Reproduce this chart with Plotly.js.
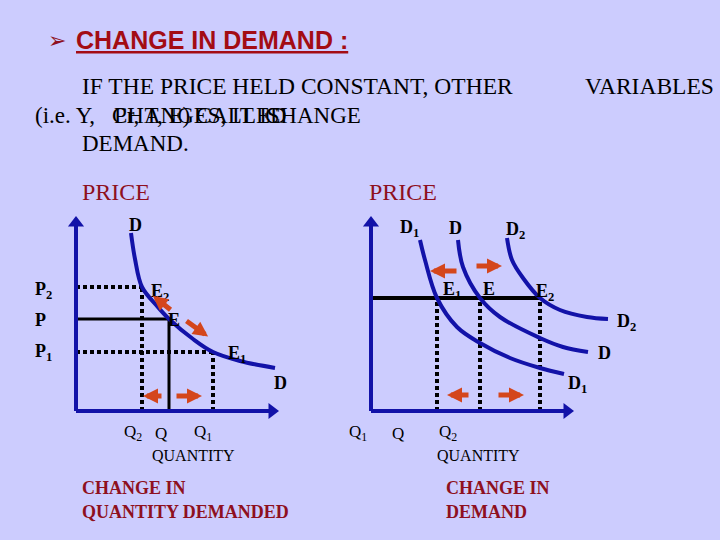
<!DOCTYPE html>
<html>
<head>
<meta charset="utf-8">
<script src="https://cdn.plot.ly/plotly-3.0.1.min.js"></script>
<style>html,body{margin:0;padding:0;background:#ccccfe;}#chart{width:720px;height:540px;}</style>
</head>
<body>
<div id="chart"></div>
<script>
// ---------- DATA ----------
// Left diagram: movement along one demand curve
const leftDQ = [2.75, 2.95, 3.3, 4.05, 4.65, 5.85, 6.85, 8.2, 9.95];
const leftDP = [8.9, 7.6, 6.2, 5.25, 4.6, 3.6, 2.95, 2.5, 2.15];
const leftPrices = [6.2, 4.6, 2.95];      // P2, P, P1
const leftQuantities = [3.3, 4.65, 6.85]; // Q2, Q, Q1
const leftDotted = [true, false, true];

// Right diagram: shifts of the demand curve
const d1Q = [2.45, 2.7, 3.3, 4.3, 5.45, 6.95, 8.45, 9.65];
const d1P = [8.55, 7.55, 5.65, 4.2, 3.4, 2.65, 2.15, 1.85];
const dQ  = [4.35, 4.6, 5.45, 6.45, 8.45, 9.6, 10.85];
const dP  = [8.55, 7.2, 5.65, 4.7, 3.65, 3.2, 2.95];
const d2Q = [6.8, 7.05, 7.6, 8.45, 9.45, 10.8, 11.85];
const d2P = [8.65, 7.55, 6.65, 5.65, 5.05, 4.7, 4.6];
const rightPrice = 5.65;
const rightQuantities = [3.3, 5.45, 8.45]; // E1, E, E2

// axis extents (arrow tips)
const axisQmax = [10.1];
const axisPmax = [9.7];

// ---------- STYLE ----------
const BG = '#ccccfe';
const BLUE = '#1212a8';
const RED = '#d4461c';
const MAROON = '#8e1020';
const SERIF = 'Liberation Serif, Times New Roman, serif';
const SANS = 'Liberation Sans, Arial, sans-serif';
const W = 720, H = 540;

const traces = [];
function axesFor(xa, ya) {
  traces.push({x:[0, axisQmax[0]-0.3], y:[0,0], xaxis:xa, yaxis:ya, mode:'lines',
    line:{color:BLUE, width:4}, hoverinfo:'skip'});
  traces.push({x:[0,0], y:[0, axisPmax[0]-0.3], xaxis:xa, yaxis:ya, mode:'lines',
    line:{color:BLUE, width:4}, hoverinfo:'skip'});
  traces.push({x:[axisQmax[0]-0.3], y:[0], xaxis:xa, yaxis:ya, mode:'markers',
    marker:{symbol:'triangle-right', size:14, color:BLUE}, hoverinfo:'skip'});
  traces.push({x:[0], y:[axisPmax[0]-0.3], xaxis:xa, yaxis:ya, mode:'markers',
    marker:{symbol:'triangle-up', size:14, color:BLUE}, hoverinfo:'skip'});
}
function seg(xa, ya, xs, ys, dotted, width) {
  traces.push({x:xs, y:ys, xaxis:xa, yaxis:ya, mode:'lines', hoverinfo:'skip',
    line:{color:'#000', width: width, dash: dotted ? '4px,3px' : 'solid'}});
}
function curve(xa, ya, xs, ys) {
  traces.push({x:xs, y:ys, xaxis:xa, yaxis:ya, mode:'lines', hoverinfo:'skip',
    line:{color:BLUE, width:4, shape:'spline', smoothing:1}});
}

// Left diagram guide lines
leftPrices.forEach((p, i) => {
  const q = leftQuantities[i];
  const w = leftDotted[i] ? 4 : 3;
  seg('x','y',[0,q],[p,p], leftDotted[i], w);
  seg('x','y',[q,q],[0,p], leftDotted[i], w);
});
axesFor('x','y');
curve('x','y', leftDQ, leftDP);

// Right diagram guide lines
seg('x2','y2',[0, rightQuantities[2]],[rightPrice, rightPrice], false, 4);
rightQuantities.forEach(q => seg('x2','y2',[q,q],[0,rightPrice], true, 4));
axesFor('x2','y2');
curve('x2','y2', d1Q, d1P);
curve('x2','y2', dQ, dP);
curve('x2','y2', d2Q, d2P);

// ---------- ANNOTATIONS ----------
const ann = [];
function T(text, px, py, size, o) {
  o = o || {};
  ann.push({text:text, x:px/W, y:1-py/H, xref:'paper', yref:'paper', showarrow:false,
    xanchor:o.anchor||'center', yanchor:'middle',
    font:{family:o.family||SERIF, size:size, color:o.color||'#000'}});
}
function arrow(xa, ya, tx, ty, hx, hy) {
  ann.push({text:'', x:hx, y:hy, ax:tx, ay:ty, xref:xa, yref:ya, axref:xa, ayref:ya,
    showarrow:true, arrowhead:2, arrowsize:0.6, arrowwidth:5, arrowcolor:RED, standoff:0});
}

// Header
T('➢', 57, 40, 22, {family:'DejaVu Sans', color:MAROON});
T('<b><u>CHANGE IN DEMAND :</u></b>', 74, 40, 25, {anchor:'left', family:SANS, color:'#a30c14'});
T('IF THE PRICE HELD CONSTANT, OTHER', 80, 86, 23.5, {anchor:'left'});
T('VARIABLES', 583, 86, 23.5, {anchor:'left'});
T('(i.e. Y,', 33, 115, 23, {anchor:'left'});
T('CHANGES, IT IS', 110, 115, 23, {anchor:'left'});
T('Pr, T, E) CALLED', 112, 115, 23, {anchor:'left'});
T('CHANGE', 263, 115, 23, {anchor:'left'});
T('DEMAND.', 80, 143, 23, {anchor:'left'});

// axis titles
T('PRICE', 80, 192, 24, {anchor:'left', color:MAROON});
T('PRICE', 367, 192, 24, {anchor:'left', color:MAROON});

// Left diagram labels
T('<b>D</b>', 135, 225, 18);
T('<b>D</b>', 280, 383, 18);
T('<b>P<sub>2</sub></b>', 33, 290, 18, {anchor:'left'});
T('<b>P</b>', 33, 320, 18, {anchor:'left'});
T('<b>P<sub>1</sub></b>', 33, 352, 18, {anchor:'left'});
T('<b>E<sub>2</sub></b>', 160, 292, 18);
T('<b>E</b>', 174, 320, 18);
T('<b>E<sub>1</sub></b>', 237, 354, 18);
T('Q<sub>2</sub>', 133, 433, 17);
T('Q', 161, 433, 17);
T('Q<sub>1</sub>', 203, 433, 17);
T('QUANTITY', 193, 455, 16);

// Right diagram labels
T('<b>D<sub>1</sub></b>', 409, 228, 18);
T('<b>D</b>', 455, 228, 18);
T('<b>D<sub>2</sub></b>', 515, 230, 18);
T('<b>E<sub>1</sub></b>', 452, 290, 18);
T('<b>E</b>', 489, 289, 18);
T('<b>E<sub>2</sub></b>', 545, 292, 18);
T('<b>D<sub>2</sub></b>', 626, 322, 18);
T('<b>D</b>', 604, 353, 18);
T('<b>D<sub>1</sub></b>', 577, 385, 18);
T('Q<sub>1</sub>', 358, 433, 17);
T('Q', 398, 433, 17);
T('Q<sub>2</sub>', 448, 433, 17);
T('QUANTITY', 478, 455, 16);

// Bottom captions
T('<b>CHANGE IN</b>', 80, 488, 18, {anchor:'left', color:MAROON});
T('<b>QUANTITY DEMANDED</b>', 80, 512, 18, {anchor:'left', color:MAROON});
T('<b>CHANGE IN</b>', 444, 488, 18, {anchor:'left', color:MAROON});
T('<b>DEMAND</b>', 444, 512, 18, {anchor:'left', color:MAROON});

// Red movement arrows (derived from the equilibrium values)
const [lq2, lq, lq1] = leftQuantities;
const [lp2, lp, lp1] = leftPrices;
arrow('x','y', lq + 0.15, lp + 0.4, lq - 0.6*(lq-lq2), lp + 0.4 + 0.6*(lp2-lp)*0.8);
arrow('x','y', lq + 0.8, lp - 0.05, lq + 0.8 + 0.7*(lq1-lq)*0.75, lp - 0.05 - 0.5*(lp-lp1));
arrow('x','y', lq - 0.3, 0.75, lq2 + 0.05, 0.75);
arrow('x','y', lq + 0.3, 0.75, lq1 - 0.55, 0.75);

const [rq1, rq, rq2] = rightQuantities;
arrow('x2','y2', rq - 1.1, 7.0, rq1 - 0.35, 7.0);
arrow('x2','y2', rq - 0.25, 7.25, rq + 1.1, 7.25);
arrow('x2','y2', rq - 0.5, 0.8, rq1 + 0.5, 0.8);
arrow('x2','y2', rq + 0.85, 0.8, rq2 - 0.8, 0.8);

const hidden = {visible:false, fixedrange:true};
const layout = {
  width: W, height: H,
  margin: {l:0, r:0, t:0, b:0},
  paper_bgcolor: BG, plot_bgcolor: BG,
  showlegend: false,
  xaxis:  Object.assign({domain:[0, 300/W], range:[-3.8, 11.2], anchor:'y'}, hidden),
  yaxis:  Object.assign({domain:[0, 339/H], range:[-6.45, 10.5], anchor:'x'}, hidden),
  xaxis2: Object.assign({domain:[300/W, 1], range:[-3.55, 17.45], anchor:'y2'}, hidden),
  yaxis2: Object.assign({domain:[0, 339/H], range:[-6.45, 10.5], anchor:'x2'}, hidden),
  annotations: ann
};
Plotly.newPlot('chart', traces, layout, {displayModeBar:false, staticPlot:true});
</script>
</body>
</html>
